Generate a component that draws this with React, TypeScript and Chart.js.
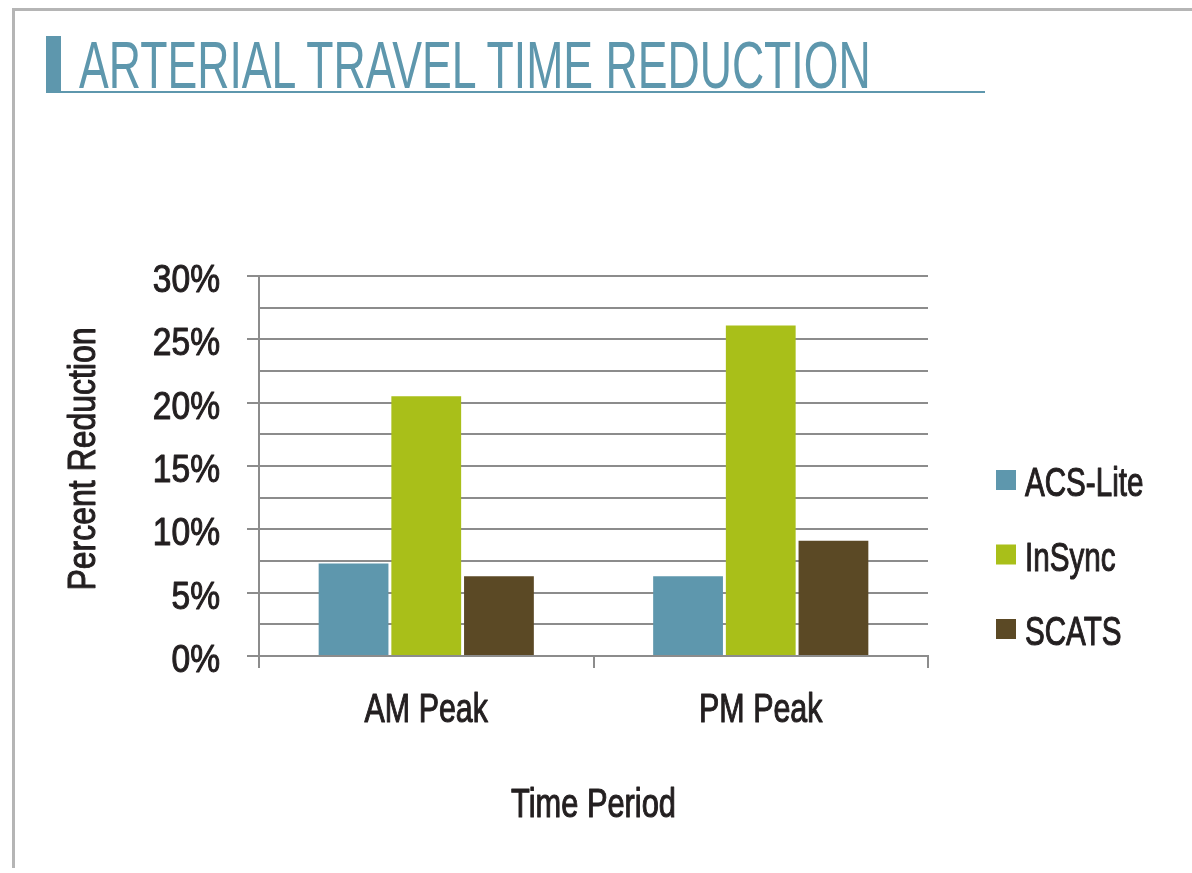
import React, { useEffect, useRef } from "react";
import { Chart, registerables } from "chart.js";

Chart.register(...registerables);

// ---- Data ----
const categories: string[] = ["AM Peak", "PM Peak"];
const seriesNames: string[] = ["ACS-Lite", "InSync", "SCATS"];
const acsLite: number[] = [7.3, 6.3];
const inSync: number[] = [20.5, 26.1];
const scats: number[] = [6.3, 9.1];
const seriesColors: string[] = ["#5e97ad", "#a9bf19", "#5b4925"];
const yMin = 0;
const yMax = 30;
const yStep = 2.5;
const yLabelValues: number[] = [0, 5, 10, 15, 20, 25, 30];

const chartTitle = "ARTERIAL TRAVEL TIME REDUCTION";
const xTitle = "Time Period";
const yTitle = "Percent Reduction";

const FONT = "'Liberation Sans Narrow', 'Liberation Sans', Arial, sans-serif";
const TEXT = "#231f20";
const GRID = "#8c8c8c";
const TEAL = "#5e97ad";

function drawText(
  ctx: CanvasRenderingContext2D,
  text: string,
  x: number,
  y: number,
  size: number,
  sx: number,
  align: CanvasTextAlign,
  rotate = 0
) {
  ctx.save();
  ctx.translate(x, y);
  if (rotate) ctx.rotate(rotate);
  ctx.scale(sx, 1);
  ctx.font = `${size}px ${FONT}`;
  ctx.textAlign = align;
  ctx.textBaseline = "alphabetic";
  ctx.fillStyle = TEXT;
  ctx.strokeStyle = TEXT;
  ctx.lineWidth = 1.1;
  ctx.lineJoin = "round";
  ctx.fillText(text, 0, 0);
  ctx.strokeText(text, 0, 0);
  ctx.restore();
}

const textPlugin = {
  id: "condensedText",
  afterDraw(chart: any) {
    const ctx = chart.ctx as CanvasRenderingContext2D;
    const xs = chart.scales.x;
    const ys = chart.scales.y;
    const area = chart.chartArea;

    // y tick labels
    yLabelValues.forEach((v) => {
      drawText(ctx, `${v}%`, 220, ys.getPixelForValue(v) + 16, 39, 0.86, "right");
    });
    // x tick labels
    (chart.data.labels as string[]).forEach((lab, i) => {
      drawText(ctx, lab, xs.getPixelForValue(i), 722, 40, 0.76, "center");
    });
    // axis titles
    drawText(ctx, xTitle, (area.left + area.right) / 2, 817, 40, 0.77, "center");
    drawText(ctx, yTitle, 95, 459, 39, 0.82, "center", -Math.PI / 2);

    // legend
    chart.data.datasets.forEach((ds: any, i: number) => {
      const base = 496 + i * 74.5;
      ctx.fillStyle = ds.backgroundColor;
      ctx.fillRect(996, base - 26, 20, 20);
      drawText(ctx, ds.label, 1025, base, 40, 0.74, "left");
    });
  },
};

export default function App() {
  const canvasRef = useRef<HTMLCanvasElement | null>(null);

  useEffect(() => {
    if (!canvasRef.current) return;
    const values = [acsLite, inSync, scats];
    const chart = new Chart(canvasRef.current, {
      type: "bar",
      data: {
        labels: categories,
        datasets: seriesNames.map((name, i) => ({
          label: name,
          data: values[i],
          backgroundColor: seriesColors[i],
          borderWidth: 0,
          categoryPercentage: 0.652,
          barPercentage: 0.96,
        })),
      },
      options: {
        responsive: false,
        animation: false,
        events: [],
        layout: { padding: { top: 276, left: 58, right: 264, bottom: 46 } },
        plugins: {
          legend: { display: false },
          tooltip: { enabled: false },
          title: { display: false },
        },
        scales: {
          x: {
            type: "category",
            offset: true,
            afterFit: (s: any) => {
              s.height = 171;
            },
            grid: {
              display: true,
              offset: true,
              drawOnChartArea: false,
              drawTicks: true,
              tickLength: 12,
              color: GRID,
              lineWidth: 2,
            },
            border: { display: true, color: GRID, width: 2 },
            ticks: { display: false, autoSkip: false },
            title: { display: false },
          },
          y: {
            min: yMin,
            max: yMax,
            afterFit: (s: any) => {
              s.width = 201;
            },
            grid: {
              display: true,
              drawTicks: true,
              tickLength: 12,
              color: GRID,
              lineWidth: 2,
              tickColor: (ctx: any) =>
                ctx.tick && yLabelValues.includes(ctx.tick.value) ? GRID : "rgba(0,0,0,0)",
            },
            border: { display: true, color: GRID, width: 2 },
            ticks: { display: false, stepSize: yStep, autoSkip: false },
            title: { display: false },
          },
        },
      },
      plugins: [textPlugin],
    } as any);
    return () => chart.destroy();
  }, []);

  return (
    <div
      style={{
        position: "fixed",
        left: 0,
        top: 0,
        width: 1192,
        height: 873,
        background: "#ffffff",
        overflow: "hidden",
      }}
    >
      <canvas
        ref={canvasRef}
        width={1192}
        height={873}
        style={{ position: "absolute", left: 0, top: 0, width: 1192, height: 873 }}
      />
      {/* frame */}
      <div style={{ position: "absolute", left: 12, top: 8, width: 1180, height: 3, background: "#b5b5b5" }} />
      <div style={{ position: "absolute", left: 12, top: 8, width: 3, height: 860, background: "#b5b5b5" }} />
      {/* title decoration */}
      <div style={{ position: "absolute", left: 46, top: 36, width: 15, height: 57, background: TEAL }} />
      <div style={{ position: "absolute", left: 46, top: 91, width: 939, height: 2, background: TEAL }} />
      <div
        style={{
          position: "absolute",
          left: 79,
          top: 32,
          fontFamily: FONT,
          fontSize: 66,
          lineHeight: "66px",
          color: TEAL,
          whiteSpace: "nowrap",
          transform: "scaleX(0.676)",
          transformOrigin: "left top",
        }}
      >
        {chartTitle}
      </div>
    </div>
  );
}
